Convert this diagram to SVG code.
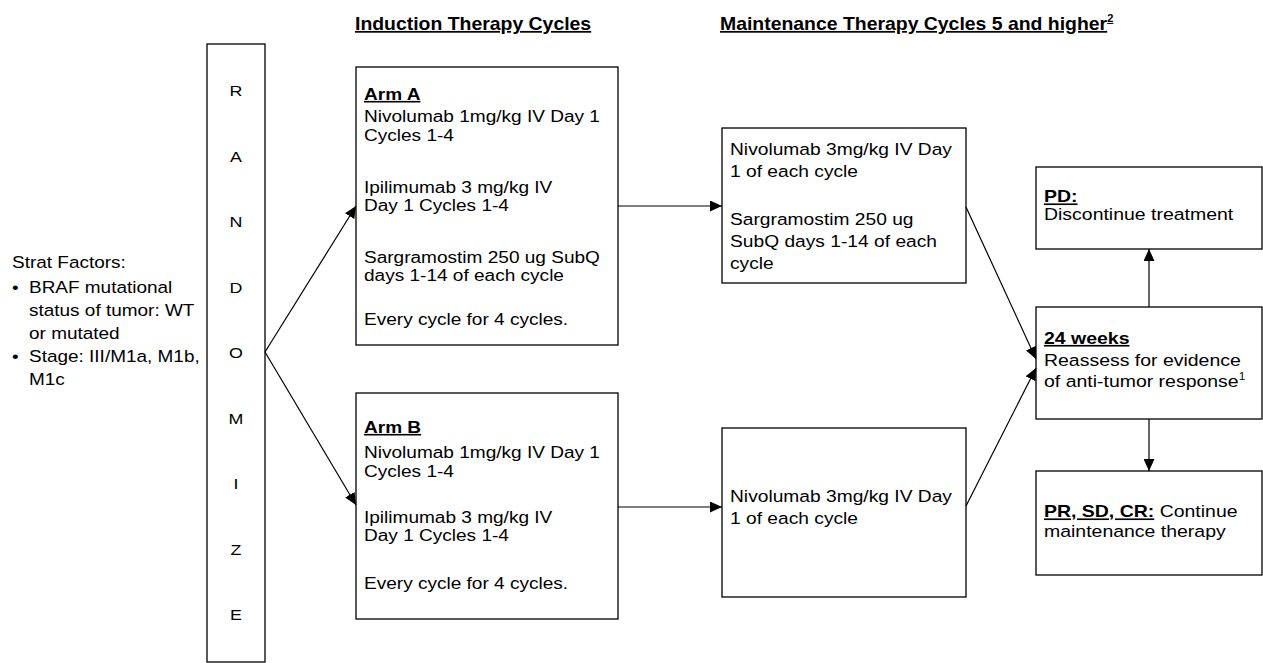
<svg xmlns="http://www.w3.org/2000/svg" width="1263" height="663" viewBox="0 0 1263 663">
<style>
text{font-family:"Liberation Sans",Arial,sans-serif;fill:#000}
.box{fill:#fff;stroke:#000;stroke-width:1.3}
.conn{stroke:#000;stroke-width:1.2;fill:none}
.arm{font-size:16px}
.mt{font-size:17px}
.rt{font-size:16.5px}
.st{font-size:16.5px}
.rl{font-size:15.5px;text-anchor:middle}
.hd{font-size:17.5px;font-weight:bold;text-decoration:underline}
.b{font-weight:bold;text-decoration:underline}
.sup{font-size:10px}
</style>
<defs>
<marker id="ah" markerUnits="userSpaceOnUse" markerWidth="13" markerHeight="11" refX="12" refY="5.5" orient="auto">
<path d="M0,0 L12,5.5 L0,11 z" fill="#000"/>
</marker>
</defs>
<rect width="1263" height="663" fill="#fff"/>

<g id="headers">
<text class="hd" transform="translate(355,0) scale(1.11,1)" y="30">Induction Therapy Cycles</text>
<text class="hd" transform="translate(720,0) scale(1.11,1)" y="30">Maintenance Therapy Cycles 5 and higher<tspan class="sup" dy="-8" style="text-decoration:none">2</tspan></text>
</g>

<g id="strat">
<text class="st" transform="translate(12,0) scale(1.15,1)"><tspan x="0" y="268">Strat Factors:</tspan><tspan x="0" y="293">•</tspan><tspan x="0" y="362">•</tspan></text>
<text class="st" transform="translate(29,0) scale(1.15,1)"><tspan x="0" y="293">BRAF mutational</tspan><tspan x="0" y="316">status of tumor: WT</tspan><tspan x="0" y="339">or mutated</tspan><tspan x="0" y="362">Stage: III/M1a, M1b,</tspan><tspan x="0" y="385">M1c</tspan></text>
</g>

<g id="randomize">
<rect class="box" x="207" y="44" width="58" height="618"/>
<text class="rl" transform="translate(236,0) scale(1.15,1)"><tspan x="0" y="96.5">R</tspan><tspan x="0" y="162">A</tspan><tspan x="0" y="227.5">N</tspan><tspan x="0" y="293">D</tspan><tspan x="0" y="358.5">O</tspan><tspan x="0" y="424">M</tspan><tspan x="0" y="489.5">I</tspan><tspan x="0" y="555">Z</tspan><tspan x="0" y="620.5">E</tspan></text>
</g>

<g id="armA">
<rect class="box" x="356" y="67" width="262" height="278"/>
<text class="arm" transform="translate(364,0) scale(1.19,1)"><tspan x="0" y="100" class="b">Arm A</tspan><tspan x="0" y="122.5">Nivolumab 1mg/kg IV Day 1</tspan><tspan x="0" y="141.5">Cycles 1-4</tspan><tspan x="0" y="193">Ipilimumab 3 mg/kg IV</tspan><tspan x="0" y="211.5">Day 1 Cycles 1-4</tspan><tspan x="0" y="263">Sargramostim 250 ug SubQ</tspan><tspan x="0" y="281.5">days 1-14 of each cycle</tspan><tspan x="0" y="325">Every cycle for 4 cycles.</tspan></text>
</g>

<g id="armB">
<rect class="box" x="356" y="393" width="262" height="226"/>
<text class="arm" transform="translate(364,0) scale(1.19,1)"><tspan x="0" y="433" class="b">Arm B</tspan><tspan x="0" y="458">Nivolumab 1mg/kg IV Day 1</tspan><tspan x="0" y="477">Cycles 1-4</tspan><tspan x="0" y="523">Ipilimumab 3 mg/kg IV</tspan><tspan x="0" y="541">Day 1 Cycles 1-4</tspan><tspan x="0" y="589">Every cycle for 4 cycles.</tspan></text>
</g>

<g id="maintA">
<rect class="box" x="722" y="128" width="244" height="155"/>
<text class="mt" transform="translate(730,0) scale(1.13,1)"><tspan x="0" y="155">Nivolumab 3mg/kg IV Day</tspan><tspan x="0" y="177">1 of each cycle</tspan><tspan x="0" y="225">Sargramostim 250 ug</tspan><tspan x="0" y="247">SubQ days 1-14 of each</tspan><tspan x="0" y="269">cycle</tspan></text>
</g>

<g id="maintB">
<rect class="box" x="722" y="428" width="244" height="169"/>
<text class="mt" transform="translate(730,0) scale(1.13,1)"><tspan x="0" y="502">Nivolumab 3mg/kg IV Day</tspan><tspan x="0" y="524">1 of each cycle</tspan></text>
</g>

<g id="pd">
<rect class="box" x="1036" y="167" width="226" height="82"/>
<text class="rt" transform="translate(1044,0) scale(1.18,1)"><tspan x="0" y="202.5" class="b">PD:</tspan><tspan x="0" y="220">Discontinue treatment</tspan></text>
</g>

<g id="reassess">
<rect class="box" x="1036" y="307" width="226" height="112"/>
<text class="rt" transform="translate(1044,0) scale(1.18,1)"><tspan x="0" y="344" class="b">24 weeks</tspan><tspan x="0" y="366.5">Reassess for evidence</tspan><tspan x="0" y="387">of anti-tumor response</tspan><tspan class="sup" dy="-7">1</tspan></text>
</g>

<g id="continue">
<rect class="box" x="1036" y="471" width="226" height="104"/>
<text class="rt" transform="translate(1044,0) scale(1.18,1)"><tspan x="0" y="517.5"><tspan class="b">PR, SD, CR:</tspan> Continue</tspan><tspan x="0" y="537">maintenance therapy</tspan></text>
</g>

<g id="connectors">
<line class="conn" x1="265" y1="352" x2="356" y2="206" marker-end="url(#ah)"/>
<line class="conn" x1="265" y1="352" x2="356" y2="505" marker-end="url(#ah)"/>
<line class="conn" x1="618" y1="206" x2="722" y2="206" marker-end="url(#ah)"/>
<line class="conn" x1="618" y1="507" x2="722" y2="507" marker-end="url(#ah)"/>
<line class="conn" x1="966" y1="207" x2="1036" y2="359" marker-end="url(#ah)"/>
<line class="conn" x1="966" y1="506" x2="1036" y2="368" marker-end="url(#ah)"/>
<line class="conn" x1="1149" y1="307" x2="1149" y2="249" marker-end="url(#ah)"/>
<line class="conn" x1="1149" y1="419" x2="1149" y2="471" marker-end="url(#ah)"/>
</g>
</svg>
